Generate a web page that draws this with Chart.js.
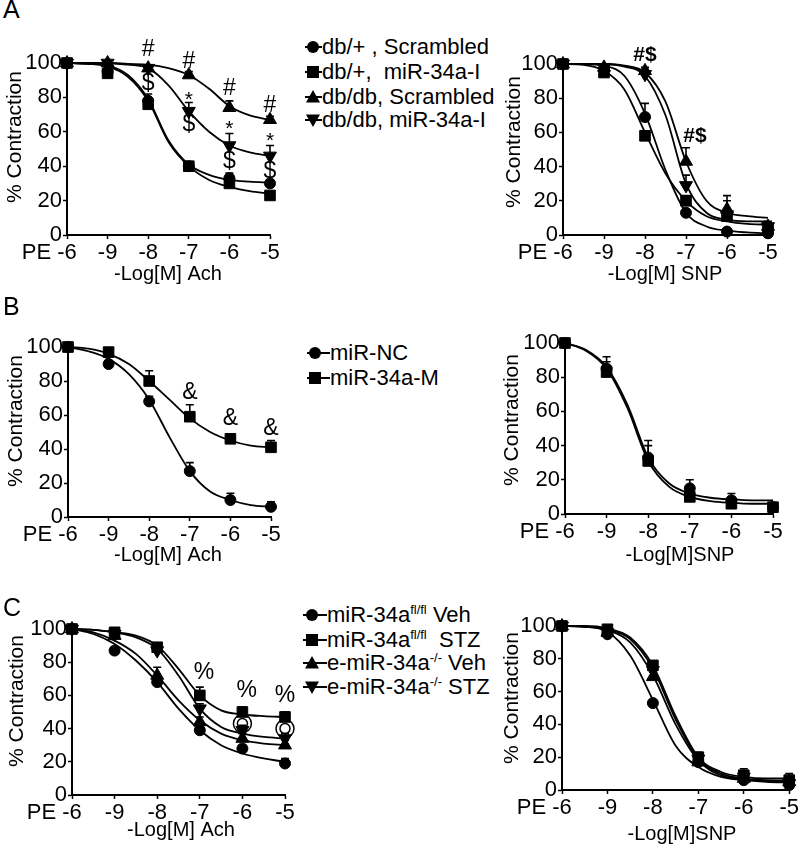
<!DOCTYPE html>
<html>
<head>
<meta charset="utf-8">
<script src="https://cdn.jsdelivr.net/npm/chart.js@4.4.0/dist/chart.umd.min.js"></script>
<style>
  body { margin: 0; background: #fff; }
  #fig { position: relative; width: 800px; height: 850px; background: #fff; overflow: hidden;
         font-family: 'Liberation Sans', Arial, Helvetica, sans-serif; color: #000; }
  #fig canvas { position: absolute; }
  .tag { position: absolute; font-size: 25px; line-height: 25px; z-index: 2; }
  .leg { position: absolute; font-size: 22px; line-height: 24px; height: 24px; white-space: pre; z-index: 2; }
  .leg svg { position: absolute; top: 2px; }
  .leg span { position: absolute; top: 0; }
  .leg sup { font-size: 13px; line-height: 0; vertical-align: 8px; }
</style>
</head>
<body>
<div id="fig">
  <div class="tag" style="left:3px;top:-3px">A</div>
  <div class="tag" style="left:3px;top:294px">B</div>
  <div class="tag" style="left:3px;top:595px">C</div>
  <canvas id="aAch"></canvas>
  <canvas id="aSnp"></canvas>
  <canvas id="bAch"></canvas>
  <canvas id="bSnp"></canvas>
  <canvas id="cAch"></canvas>
  <canvas id="cSnp"></canvas>
</div>
<script>
// x positions: PE, -9, -8, -7, -6, -5 (log M)
const xTickLabels = ['-6', '-9', '-8', '-7', '-6', '-5'];
const doseIdx = [0, 1, 2, 3, 4, 5];
const fitX = [0, 0.5, 1, 1.5, 2, 2.5, 3, 3.5, 4, 4.5, 5];

// ---- A, Ach
const aAchScrMean = [100, 95, 78, 40, 33, 30];
const aAchScrSem  = [0, 2, 4, 2, 3, 2];
const aAchScrFit  = [100, 99.5, 98.5, 93, 79, 55, 41, 35, 32, 31, 30.5];
const aAchInhMean = [100, 94, 76, 40, 30, 23];
const aAchInhSem  = [0, 2, 3, 2, 3, 1];
const aAchInhFit  = [100, 99.5, 98, 92, 78, 54, 40, 32, 28, 25.5, 24];
const aAchDbScrMean = [100, 100, 97, 93, 74, 67];
const aAchDbScrSem  = [0, 0, 2, 2, 4, 2];
const aAchDbScrFit  = [100, 100, 100, 99.5, 99, 97, 93, 85, 75, 69.5, 67];
const aAchDbInhMean = [100, 100, 97, 72, 52, 46];
const aAchDbInhSem  = [0, 0, 2, 5, 7, 6];
const aAchDbInhFit  = [100, 100, 100, 99, 97, 87, 72, 60, 52, 48, 46];
const aAchMarks = ['#', '$', '#', '*', '$', '#', '*', '$', '#', '*', '$'];
const aAchMarkX = [2, 2, 3, 3, 3, 4, 4, 4, 5, 5, 5];
const aAchMarkY = [107.5, 88, 101, 81, 64, 85, 64.5, 42.5, 75, 57.5, 36.6];

// ---- A, SNP
const aSnpScrMean = [100, 97, 69, 13, 2, 1];
const aSnpScrSem  = [0, 2, 8, 2, 1, 1];
const aSnpScrFit  = [100, 100, 99, 93, 71, 38, 13, 5, 2.5, 1.5, 1];
const aSnpInhMean = [100, 95, 58, 20, 11, 4];
const aSnpInhSem  = [0, 2, 3, 3, 2, 1];
const aSnpInhFit  = [100, 99.5, 96, 85, 60, 36, 20, 11, 8, 6.5, 6];
const aSnpDbScrMean = [100, 98, 96, 43, 15, 5];
const aSnpDbScrSem  = [0, 1, 2, 8, 8, 3];
const aSnpDbScrFit  = [100, 100, 100, 99, 95, 78, 43, 20, 13, 11, 10];
const aSnpDbInhMean = [100, 98, 94, 29, 12, 5];
const aSnpDbInhSem  = [0, 2, 2, 6, 8, 2];
const aSnpDbInhFit  = [100, 100, 100, 98.5, 93, 70, 30, 13, 9, 8, 8];
const aSnpMarks = ['#$', '#$'];
const aSnpMarkX = [2, 3.22];
const aSnpMarkY = [105, 58];

// ---- B, Ach
const bAchNcMean = [100, 90, 68, 27, 10, 6];
const bAchNcSem  = [0, 2, 3, 5, 4, 3];
const bAchNcFit  = [100, 97.5, 93, 84, 69, 47, 27, 15, 10, 7, 6];
const bAchMMean  = [100, 97, 80, 59, 46, 41];
const bAchMSem   = [0, 2, 6, 7, 3, 4];
const bAchMFit   = [100, 99, 96, 90, 80, 69, 58, 50, 45, 42, 41];
const bAchMarks = ['&', '&', '&'];
const bAchMarkX = [3, 4, 5];
const bAchMarkY = [73, 58, 52];

// ---- B, SNP
const bSnpNcMean = [100, 85, 33, 15, 8, 4];
const bSnpNcSem  = [0, 7, 10, 5, 4, 1];
const bSnpNcFit  = [100, 96, 86, 64, 33, 18, 12, 9.5, 8.5, 8, 8];
const bSnpMMean  = [100, 83, 31, 10, 6, 4];
const bSnpMSem   = [0, 6, 9, 5, 4, 1];
const bSnpMFit   = [100, 95.5, 85, 62, 31, 16, 10, 7.5, 6.5, 6, 6];

// ---- C, Ach
const cAchFlVehMean = [100, 87, 68, 39, 28, 19];
const cAchFlVehSem  = [0, 2, 3, 2, 2, 3];
const cAchFlVehFit  = [100, 97, 91, 81, 68, 52, 39, 30, 25, 22, 20];
const cAchFlStzMean = [100, 98, 89, 60, 50, 47];
const cAchFlStzSem  = [0, 1, 2, 5, 3, 3];
const cAchFlStzFit  = [100, 99.5, 98, 96, 90, 76, 60, 51, 48.5, 47.5, 47];
const cAchKoVehMean = [100, 96, 72, 44, 34, 30];
const cAchKoVehSem  = [0, 2, 5, 3, 3, 3];
const cAchKoVehFit  = [100, 98, 93, 85, 72, 57, 45, 37, 33, 31, 30];
const cAchKoStzMean = [100, 97, 87, 52, 39, 34];
const cAchKoStzSem  = [0, 2, 2, 3, 3, 3];
const cAchKoStzFit  = [100, 99.5, 98, 95, 88, 72, 52, 41, 37, 35, 34];
const cAchRingX = [4, 5];
const cAchRingY = [43, 40];
const cAchMarks = ['%', '%', '%'];
const cAchMarkX = [3.1, 4.1, 5];
const cAchMarkY = [74, 63, 60];

// ---- C, SNP
const cSnpFlVehMean = [100, 95, 53, 17, 6, 3];
const cSnpFlVehSem  = [0, 1, 2, 3, 3, 3];
const cSnpFlVehFit  = [100, 99.5, 96.5, 82, 55, 27, 14, 8, 6, 5, 4.5];
const cSnpFlStzMean = [100, 98, 76, 20, 9, 6];
const cSnpFlStzSem  = [0, 2, 2, 3, 4, 4];
const cSnpFlStzFit  = [100, 100, 98.5, 93, 76, 45, 20, 11, 8, 7, 7];
const cSnpKoVehMean = [100, 96, 69, 17, 7, 5];
const cSnpKoVehSem  = [0, 1, 3, 3, 2, 3];
const cSnpKoVehFit  = [100, 99.5, 97.5, 90, 70, 40, 18, 9, 6.5, 5.5, 5];
const cSnpKoStzMean = [100, 96, 73, 19, 8, 4];
const cSnpKoStzSem  = [0, 2, 2, 3, 3, 3];
const cSnpKoStzFit  = [100, 99.8, 98, 92, 74, 43, 19, 10, 7, 6, 5.5];

// legends
const aLegendLabels = ['db/+ , Scrambled', 'db/+,  miR-34a-I', 'db/db, Scrambled', 'db/db, miR-34a-I'];
const bLegendLabels = ['miR-NC', 'miR-34a-M'];
const cLegendLabels = ['miR-34a<sup>fl/fl</sup> Veh', 'miR-34a<sup>fl/fl</sup>  STZ',
                       'e-miR-34a<sup>-/-</sup> Veh', 'e-miR-34a<sup>-/-</sup> STZ'];
const markerOrder = ['circle', 'rect', 'triangle', 'triangleDown'];

const FONT = "'Liberation Sans', Arial, Helvetica, sans-serif";
Chart.defaults.font.family = FONT;
Chart.defaults.color = '#000';

const pointLook = {
  circle: { pointStyle: 'circle', pointRadius: 5.5, pointRotation: 0 },
  rect: { pointStyle: 'rect', pointRadius: 7.5, pointRotation: 0 },
  triangle: { pointStyle: 'triangle', pointRadius: 7.5, pointRotation: 0 },
  triangleDown: { pointStyle: 'triangle', pointRadius: 7.5, pointRotation: 180 }
};

function seriesSets(series, extra) {
  const pts = series.map(s => Object.assign({
    data: s.mean.map((v, i) => ({ x: doseIdx[i], y: v })),
    showLine: false,
    pointBackgroundColor: '#000',
    pointBorderColor: '#000',
    pointBorderWidth: 1,
    clip: false
  }, pointLook[s.marker]));
  const fits = series.map(s => ({
    data: s.fit.map((v, i) => ({ x: fitX[i], y: v })),
    borderColor: '#000',
    borderWidth: 1.8,
    pointRadius: 0,
    cubicInterpolationMode: 'monotone',
    clip: false
  }));
  return (extra || []).concat(pts, fits);
}

function decor(p) {
  const toX = v => v - p.box.x, toY = v => v - p.box.y;
  return {
    id: 'decor_' + p.id,
    beforeDatasetsDraw(chart) {
      const { ctx, scales: { x, y } } = chart;
      ctx.save();
      ctx.strokeStyle = '#000';
      ctx.lineWidth = 1.6;
      p.series.forEach(s => {
        s.mean.forEach((m, i) => {
          const e = s.sem[i];
          if (!e) return;
          const px = x.getPixelForValue(doseIdx[i]);
          const y0 = y.getPixelForValue(m), y1 = y.getPixelForValue(m + e);
          ctx.beginPath();
          ctx.moveTo(px, y0); ctx.lineTo(px, y1);
          ctx.moveTo(px - 4, y1); ctx.lineTo(px + 4, y1);
          ctx.stroke();
        });
      });
      ctx.restore();
    },
    afterDraw(chart) {
      const { ctx, chartArea, scales: { x, y } } = chart;
      ctx.save();
      ctx.fillStyle = '#000';
      // significance marks
      (p.marks || []).forEach((t, i) => {
        const size = t === '*' ? 21 : (p.markBold ? 21 : 23);
        ctx.font = (p.markBold ? 'bold ' : '') + size + 'px ' + FONT;
        ctx.textAlign = 'center';
        ctx.textBaseline = 'middle';
        const dy = t === '*' ? 5 : 0;
        ctx.fillText(t, x.getPixelForValue(p.markX[i]), y.getPixelForValue(p.markY[i]) + dy);
      });
      // "PE" before the first tick label
      ctx.font = '22px ' + FONT;
      ctx.textAlign = 'right';
      ctx.textBaseline = 'middle';
      const w6 = ctx.measureText(xTickLabels[0]).width;
      ctx.fillText('PE', x.getPixelForValue(0) - w6 / 2 - 6, chartArea.bottom + 5 + 13.2);
      // axis titles
      ctx.textAlign = 'center';
      ctx.font = '20px ' + FONT;
      ctx.fillText(p.xTitle, toX(p.xTitlePos[0]), toY(p.xTitlePos[1]));
      ctx.translate(toX(p.yTitlePos[0]), toY(p.yTitlePos[1]));
      ctx.rotate(-Math.PI / 2);
      ctx.font = '21px ' + FONT;
      ctx.fillText('% Contraction', 0, 0);
      ctx.restore();
    }
  };
}

function buildPanel(p) {
  const cv = document.getElementById(p.id);
  cv.width = p.box.w; cv.height = p.box.h;
  cv.style.left = p.box.x + 'px';
  cv.style.top = p.box.y + 'px';
  const yWidth = p.area.left - p.box.x;
  const xHeight = p.box.y + p.box.h - p.area.bottom;
  new Chart(cv, {
    type: 'line',
    data: { datasets: seriesSets(p.series, p.extra) },
    options: {
      responsive: false,
      animation: false,
      layout: { padding: { left: 0, bottom: 0, top: p.area.top - p.box.y, right: p.box.x + p.box.w - p.area.right } },
      plugins: { legend: { display: false }, tooltip: { enabled: false } },
      scales: {
        x: {
          type: 'linear', min: 0, max: 5,
          grid: { drawOnChartArea: false, color: '#000', tickLength: 4, tickWidth: 1.5 },
          border: { color: '#000', width: 2 },
          ticks: { stepSize: 1, padding: 1, font: { size: 22 }, color: '#000', maxRotation: 0,
                   callback: v => xTickLabels[v] },
          afterFit: s => { s.height = xHeight; }
        },
        y: {
          min: 0, max: 100,
          grid: { drawOnChartArea: false, color: '#000', tickLength: 4, tickWidth: 1.5 },
          border: { color: '#000', width: 2 },
          ticks: { stepSize: 20, padding: 1, font: { size: 22 }, color: '#000' },
          afterFit: s => { s.width = yWidth; }
        }
      }
    },
    plugins: [decor(p)]
  });
}

const ser = (mean, sem, fit, marker) => ({ mean, sem, fit, marker });

buildPanel({
  id: 'aAch', box: { x: 0, y: 30, w: 295, h: 262 }, area: { left: 67, top: 63, right: 270, bottom: 235 },
  xTitle: '-Log[M] Ach', xTitlePos: [168, 274], yTitlePos: [15, 137],
  series: [ser(aAchScrMean, aAchScrSem, aAchScrFit, 'circle'), ser(aAchInhMean, aAchInhSem, aAchInhFit, 'rect'),
           ser(aAchDbScrMean, aAchDbScrSem, aAchDbScrFit, 'triangle'), ser(aAchDbInhMean, aAchDbInhSem, aAchDbInhFit, 'triangleDown')],
  marks: aAchMarks, markX: aAchMarkX, markY: aAchMarkY
});
buildPanel({
  id: 'aSnp', box: { x: 500, y: 30, w: 295, h: 262 }, area: { left: 563, top: 64, right: 768, bottom: 235 },
  xTitle: '-Log[M] SNP', xTitlePos: [665, 274], yTitlePos: [514, 142],
  series: [ser(aSnpScrMean, aSnpScrSem, aSnpScrFit, 'circle'), ser(aSnpInhMean, aSnpInhSem, aSnpInhFit, 'rect'),
           ser(aSnpDbScrMean, aSnpDbScrSem, aSnpDbScrFit, 'triangle'), ser(aSnpDbInhMean, aSnpDbInhSem, aSnpDbInhFit, 'triangleDown')],
  marks: aSnpMarks, markX: aSnpMarkX, markY: aSnpMarkY, markBold: true
});
buildPanel({
  id: 'bAch', box: { x: 0, y: 312, w: 295, h: 258 }, area: { left: 68, top: 347, right: 271, bottom: 517 },
  xTitle: '-Log[M] Ach', xTitlePos: [168, 555], yTitlePos: [16, 421],
  series: [ser(bAchNcMean, bAchNcSem, bAchNcFit, 'circle'), ser(bAchMMean, bAchMSem, bAchMFit, 'rect')],
  marks: bAchMarks, markX: bAchMarkX, markY: bAchMarkY
});
buildPanel({
  id: 'bSnp', box: { x: 500, y: 312, w: 295, h: 258 }, area: { left: 565, top: 343, right: 773, bottom: 514 },
  xTitle: '-Log[M]SNP', xTitlePos: [680, 555], yTitlePos: [512, 420],
  series: [ser(bSnpNcMean, bSnpNcSem, bSnpNcFit, 'circle'), ser(bSnpMMean, bSnpMSem, bSnpMFit, 'rect')]
});
buildPanel({
  id: 'cAch', box: { x: 0, y: 596, w: 300, h: 254 }, area: { left: 72, top: 629, right: 285, bottom: 795 },
  xTitle: '-Log[M] Ach', xTitlePos: [181, 830], yTitlePos: [17, 701],
  series: [ser(cAchFlVehMean, cAchFlVehSem, cAchFlVehFit, 'circle'), ser(cAchFlStzMean, cAchFlStzSem, cAchFlStzFit, 'rect'),
           ser(cAchKoVehMean, cAchKoVehSem, cAchKoVehFit, 'triangle'), ser(cAchKoStzMean, cAchKoStzSem, cAchKoStzFit, 'triangleDown')],
  extra: [9, 5].map(r => ({
    data: cAchRingX.map((v, i) => ({ x: v, y: cAchRingY[i] })),
    showLine: false, pointStyle: 'circle', pointRadius: r,
    pointBackgroundColor: 'rgba(0,0,0,0)', pointBorderColor: '#000', pointBorderWidth: 1.5, clip: false
  })),
  marks: cAchMarks, markX: cAchMarkX, markY: cAchMarkY
});
buildPanel({
  id: 'cSnp', box: { x: 500, y: 596, w: 300, h: 254 }, area: { left: 562, top: 626, right: 792, bottom: 790 },
  xTitle: '-Log[M]SNP', xTitlePos: [682, 834], yTitlePos: [512, 698],
  series: [ser(cSnpFlVehMean, cSnpFlVehSem, cSnpFlVehFit, 'circle'), ser(cSnpFlStzMean, cSnpFlStzSem, cSnpFlStzFit, 'rect'),
           ser(cSnpKoVehMean, cSnpKoVehSem, cSnpKoVehFit, 'triangle'), ser(cSnpKoStzMean, cSnpKoStzSem, cSnpKoStzFit, 'triangleDown')]
});

// legends (HTML)
function markerSvg(kind, lineLen, mx) {
  let shape = '';
  if (kind === 'circle') shape = `<circle cx="${mx}" cy="10" r="6"/>`;
  if (kind === 'rect') shape = `<rect x="${mx - 6}" y="4" width="12" height="12"/>`;
  if (kind === 'triangle') shape = `<polygon points="${mx},3 ${mx + 7},15.5 ${mx - 7},15.5"/>`;
  if (kind === 'triangleDown') shape = `<polygon points="${mx - 7},4.5 ${mx + 7},4.5 ${mx},17"/>`;
  return `<svg width="${lineLen}" height="20"><line x1="0" y1="10" x2="${lineLen}" y2="10" stroke="#000" stroke-width="2"/><g fill="#000">${shape}</g></svg>`;
}
function buildLegend(labels, lineStart, markerX, textX, rowsY) {
  const fig = document.getElementById('fig');
  labels.forEach((lab, i) => {
    const row = document.createElement('div');
    row.className = 'leg';
    row.style.left = lineStart + 'px';
    row.style.top = (rowsY[i] - 12) + 'px';
    row.innerHTML = markerSvg(markerOrder[i], textX - lineStart, markerX - lineStart) +
      `<span style="left:${textX - lineStart}px">${lab}</span>`;
    fig.appendChild(row);
  });
}
buildLegend(aLegendLabels, 305, 313, 322, [47, 72, 97, 120]);
buildLegend(bLegendLabels, 307, 315, 330, [353, 378]);
buildLegend(cLegendLabels, 303, 312, 327, [615, 640, 663, 687]);
</script>
</body>
</html>
